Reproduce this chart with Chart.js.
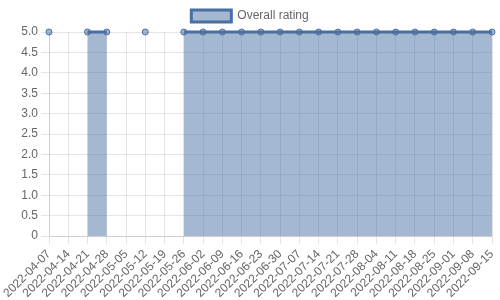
<!DOCTYPE html>
<html>
<head>
<meta charset="utf-8">
<script src="https://cdn.jsdelivr.net/npm/chart.js@4"></script>
<style>
  html, body { margin: 0; padding: 0; background: #fff; }
  #wrap { width: 500px; height: 300px; }
</style>
</head>
<body>
<div id="wrap"><canvas id="ratingChart"></canvas></div>
<script>
const weeks = [
  '2022-04-07', '2022-04-14', '2022-04-21', '2022-04-28', '2022-05-05', '2022-05-12',
  '2022-05-19', '2022-05-26', '2022-06-02', '2022-06-09', '2022-06-16', '2022-06-23',
  '2022-06-30', '2022-07-07', '2022-07-14', '2022-07-21', '2022-07-28', '2022-08-04',
  '2022-08-11', '2022-08-18', '2022-08-25', '2022-09-01', '2022-09-08', '2022-09-15'
];
const overallRating = [
  5, null, 5, 5, null, 5,
  null, 5, 5, 5, 5, 5,
  5, 5, 5, 5, 5, 5,
  5, 5, 5, 5, 5, 5
];

window.addEventListener('DOMContentLoaded', () => {
  const ctx = document.getElementById('ratingChart').getContext('2d');
  new Chart(ctx, {
    type: 'line',
    data: {
      labels: weeks,
      datasets: [{
        label: 'Overall rating',
        data: overallRating,
        borderColor: 'rgb(72,111,161)',
        backgroundColor: 'rgba(75,114,164,0.5)',
        borderWidth: 3,
        pointRadius: 3,
        pointBackgroundColor: 'rgba(75,114,164,0.5)',
        pointBorderColor: 'rgb(72,111,161)',
        pointBorderWidth: 1,
        fill: 'origin',
        spanGaps: false,
        tension: 0,
        clip: false
      }]
    },
    options: {
      responsive: true,
      maintainAspectRatio: false,
      animation: false,
      scales: {
        x: {
          ticks: { maxRotation: 45, minRotation: 45, autoSkip: false },
          afterFit: s => { s.height = 64; s.paddingLeft = 0; s.paddingRight = 8; }
        },
        y: {
          min: 0,
          max: 5,
          ticks: { stepSize: 0.5 },
          afterFit: s => { s.width = 49; }
        }
      },
      plugins: {
        legend: { position: 'top' }
      }
    }
  });
});
</script>
</body>
</html>
